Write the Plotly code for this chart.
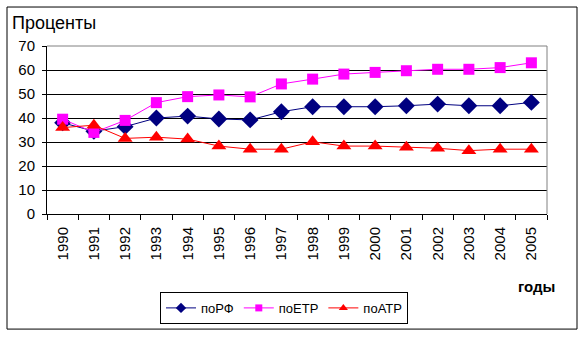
import plotly.graph_objects as go

years = ["1990", "1991", "1992", "1993", "1994", "1995", "1996", "1997",
         "1998", "1999", "2000", "2001", "2002", "2003", "2004", "2005"]
po_rf = [38, 34.5, 36.4, 40, 40.8, 39.6, 39.2, 42.6, 44.7, 44.7, 44.7, 45.1, 45.8, 45.1, 45.1, 46.5]
po_etr = [39.5, 34, 39, 46.4, 48.9, 49.6, 48.8, 54.2, 56.2, 58.3, 59, 59.7, 60.3, 60.3, 61, 63]
po_atr = [36, 37, 31.5, 32, 31.2, 28.3, 27, 27, 30.1, 28.3, 28.3, 27.8, 27.4, 26.4, 27, 27]
series_names = ["поРФ", "поЕТР", "поАТР"]

FONT = "Liberation Sans, Arial, sans-serif"
styles = [("#000080", "diamond", 13, 8), ("#FF00FF", "square", 11, 7), ("#FF0000", "triangle-up", 13, 8)]

fig = go.Figure()
for name, vals, (col, sym, sz, _) in zip(series_names, [po_rf, po_etr, po_atr], styles):
    fig.add_trace(go.Scatter(x=years, y=vals, name=name, mode="lines+markers", showlegend=False,
                             line=dict(color=col, width=1),
                             marker=dict(symbol=sym, size=sz, color=col)))
# legend entries with smaller markers (as in the reference)
for name, (col, sym, _, lsz) in zip(series_names, styles):
    fig.add_trace(go.Scatter(x=[None], y=[None], name=name, mode="lines+markers",
                             line=dict(color=col, width=1),
                             marker=dict(symbol=sym, size=lsz, color=col)))

fig.update_layout(
    width=585, height=337,
    margin=dict(l=47, r=38, t=46, b=123, autoexpand=False),
    paper_bgcolor="white", plot_bgcolor="white",
    font=dict(family=FONT, size=13, color="black"),
    showlegend=True,
    legend=dict(orientation="h", x=0.226, xanchor="left", y=-0.464, yanchor="top",
                bordercolor="black", borderwidth=1, font=dict(size=13, family=FONT),
                bgcolor="white", tracegroupgap=0, itemwidth=30),
    xaxis=dict(type="category", range=[-0.5, 15.5], autorange=False, showgrid=False,
               showline=True, linecolor="black", linewidth=1, automargin=False,
               ticks="outside", ticklen=5, tickcolor="black", tickson="boundaries",
               tickangle=-90, tickfont=dict(size=15, family=FONT), zeroline=False,
               ticklabelstandoff=6),
    yaxis=dict(range=[0, 70], dtick=10, showgrid=True, gridcolor="black", gridwidth=1,
               showline=True, linecolor="black", linewidth=1, ticks="outside", ticklen=4,
               tickcolor="black", tickfont=dict(size=15, family=FONT), zeroline=False,
               automargin=False, ticklabelstandoff=4),
    shapes=[
        dict(type="line", xref="paper", yref="paper", x0=0, x1=1, y0=1, y1=1,
             line=dict(color="#808080", width=1), layer="above"),
        dict(type="line", xref="paper", yref="paper", x0=1, x1=1, y0=0, y1=1,
             line=dict(color="#808080", width=1), layer="above"),
        dict(type="rect", xref="paper", yref="paper", x0=-0.08, x1=1.06, y0=-0.685, y1=1.232,
             line=dict(color="black", width=1), fillcolor="rgba(0,0,0,0)", layer="below"),
    ],
    annotations=[
        dict(text="Проценты", xref="paper", yref="paper", x=-0.074, y=1.137,
             xanchor="left", yanchor="middle", showarrow=False, font=dict(size=18, family=FONT)),
        dict(text="<b>годы</b>", xref="paper", yref="paper", x=1.02, y=-0.43,
             xanchor="right", yanchor="middle", showarrow=False, font=dict(size=15, family=FONT)),
    ],
)

fig.write_html("out.html")
